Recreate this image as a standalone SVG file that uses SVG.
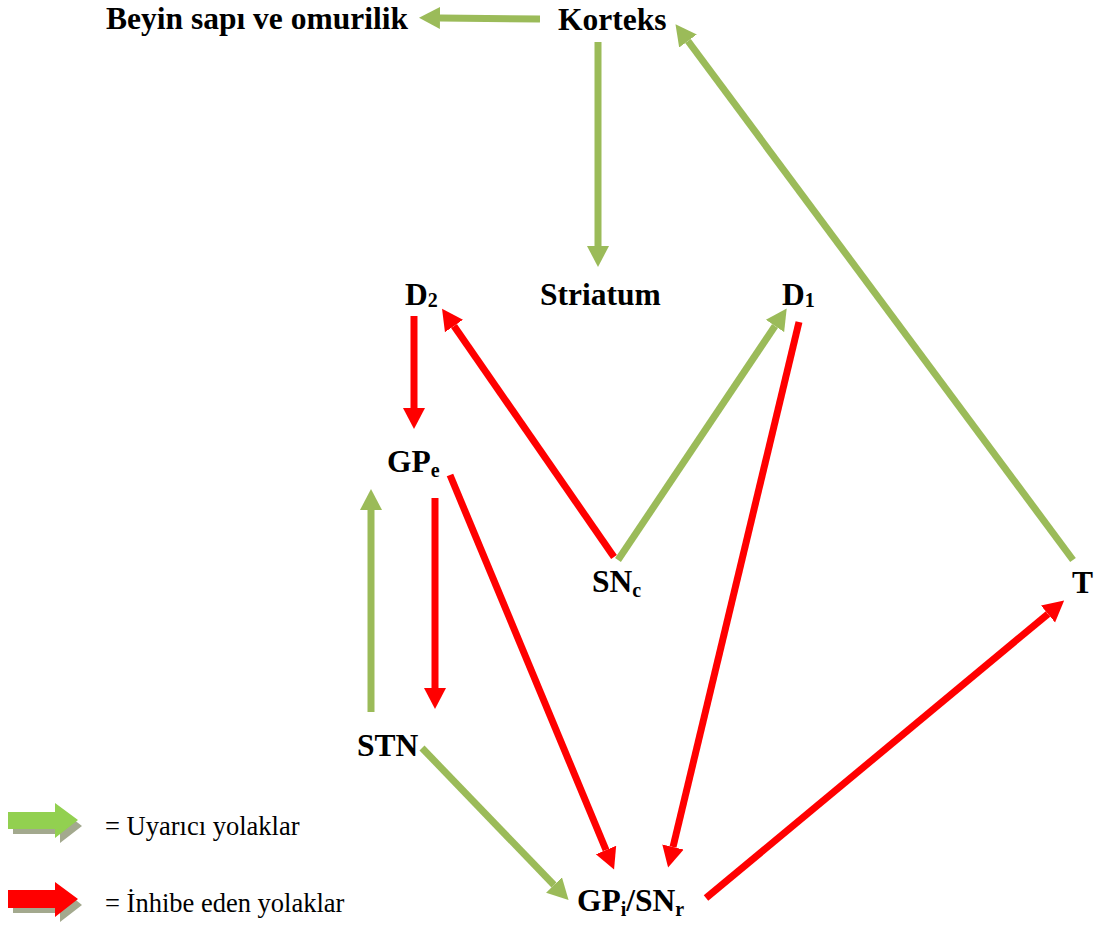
<svg xmlns="http://www.w3.org/2000/svg" width="1102" height="925" viewBox="0 0 1102 925">
<style>
.lbl{font-family:"Liberation Serif","Times New Roman",serif;font-weight:bold;font-size:31.5px;fill:#000}
.sub{font-size:20px}
.leg{font-family:"Liberation Serif","Times New Roman",serif;font-size:26.5px;fill:#000}
.g{stroke:#9BBB59;stroke-width:7;fill:none}
.r{stroke:#FF0000;stroke-width:7;fill:none}
</style>
<defs>
<marker id="hg" markerUnits="userSpaceOnUse" markerWidth="22" markerHeight="24" refX="0" refY="12" orient="auto"><path d="M0,1 L21,12 L0,23 z" fill="#9BBB59"/></marker>
<marker id="hr" markerUnits="userSpaceOnUse" markerWidth="22" markerHeight="24" refX="0" refY="12" orient="auto"><path d="M0,1 L21,12 L0,23 z" fill="#FF0000"/></marker>
</defs>
<g id="connectors">
<line class="g" x1="540" y1="19" x2="440" y2="18" marker-end="url(#hg)"/>
<line class="g" x1="598" y1="42" x2="598" y2="246" marker-end="url(#hg)"/>
<line class="g" x1="1073" y1="560" x2="688" y2="41" marker-end="url(#hg)"/>
<line class="r" x1="614" y1="557" x2="454" y2="326" marker-end="url(#hr)"/>
<line class="g" x1="618" y1="560" x2="775" y2="326" marker-end="url(#hg)"/>
<line class="r" x1="799" y1="322" x2="673" y2="847" marker-end="url(#hr)"/>
<line class="r" x1="414" y1="316" x2="414" y2="408" marker-end="url(#hr)"/>
<line class="r" x1="435" y1="498" x2="435" y2="688" marker-end="url(#hr)"/>
<line class="r" x1="450" y1="475" x2="606" y2="850" marker-end="url(#hr)"/>
<line class="g" x1="371" y1="712" x2="371" y2="510" marker-end="url(#hg)"/>
<line class="g" x1="422" y1="748" x2="554" y2="885" marker-end="url(#hg)"/>
<line class="r" x1="706" y1="898" x2="1048" y2="614" marker-end="url(#hr)"/>
</g>
<g id="n-beyin"><text class="lbl" x="106" y="29">Beyin sapı ve omurilik</text></g>
<g id="n-korteks"><text class="lbl" x="558" y="30">Korteks</text></g>
<g id="n-striatum"><text class="lbl" x="540" y="305">Striatum</text></g>
<g id="n-d2"><text class="lbl" x="405" y="305">D<tspan class="sub" dy="2">2</tspan></text></g>
<g id="n-d1"><text class="lbl" x="782" y="305">D<tspan class="sub" dy="2">1</tspan></text></g>
<g id="n-gpe"><text class="lbl" x="387" y="472">GP<tspan class="sub" dy="5">e</tspan></text></g>
<g id="n-snc"><text class="lbl" x="592" y="592">SN<tspan class="sub" dy="5">c</tspan></text></g>
<g id="n-t"><text class="lbl" x="1072" y="593">T</text></g>
<g id="n-stn"><text class="lbl" x="357" y="756">STN</text></g>
<g id="n-gpi"><text class="lbl" x="577" y="911">GP<tspan class="sub" dy="5">i</tspan><tspan dy="-5">/SN</tspan><tspan class="sub" dy="5">r</tspan></text></g>
<g id="legend">
<path d="M13,817 L60,817 L60,809 L82,826 L60,843 L60,834 L13,834 z" fill="#A3A98E"/>
<path d="M8,812 L55,812 L55,803 L78,820 L55,838 L55,829 L8,829 z" fill="#92D050"/>
<text class="leg" x="105" y="835">= Uyarıcı yolaklar</text>
<path d="M13,895 L60,895 L60,887 L82,905 L60,922 L60,913 L13,913 z" fill="#A3A98E"/>
<path d="M8,890 L55,890 L55,882 L78,899 L55,917 L55,908 L8,908 z" fill="#FF0000"/>
<text class="leg" x="105" y="912">= İnhibe eden yolaklar</text>
</g>
</svg>
